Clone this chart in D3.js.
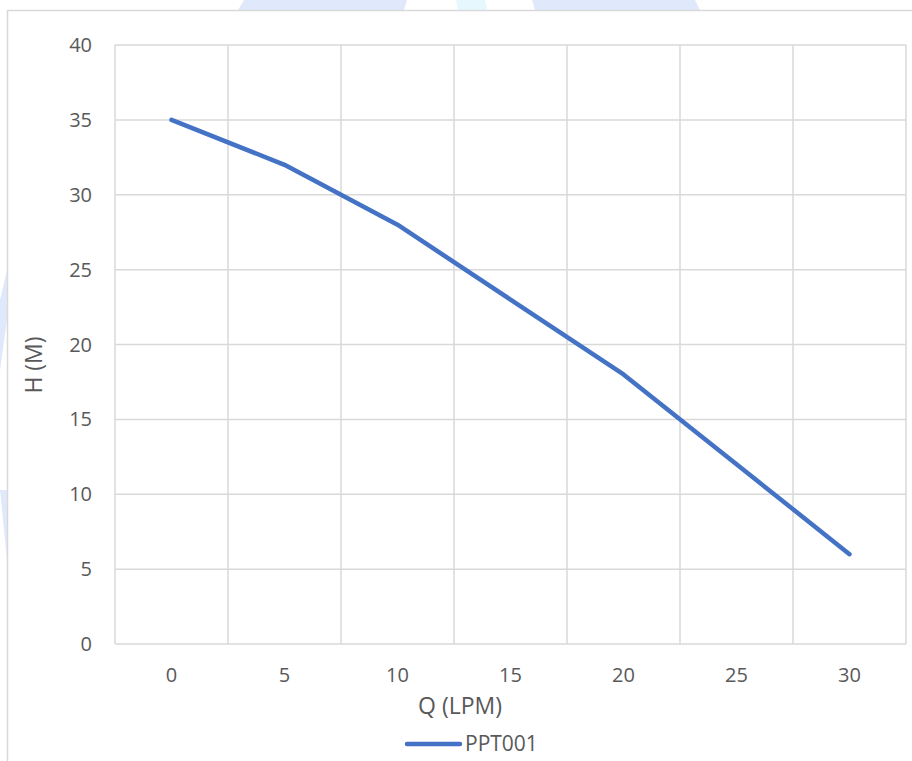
<!DOCTYPE html>
<html>
<head>
<meta charset="utf-8">
<script src="https://cdn.jsdelivr.net/npm/d3@7"></script>
<style>
  html, body { margin: 0; padding: 0; background: #fff; }
  svg { display: block; }
</style>
</head>
<body>
<svg id="chart" width="912" height="761"></svg>
<script>
const categories = ["0", "5", "10", "15", "20", "25", "30"];
const headValues = [35, 32, 28, 23, 18, 12, 6];
const yTicks = [0, 5, 10, 15, 20, 25, 30, 35, 40];
const seriesName = "PPT001";
const xTitle = "Q (LPM)";
const yTitle = "H (M)";

const svg = d3.select("#chart");
const font = "'Open Sans', 'Segoe UI', sans-serif";
const textColor = "#595959";
const gridColor = "#d9d9d9";
const lineColor = "#4472c4";

// faint watermark shapes behind the chart
const wm = svg.append("g");
wm.append("polygon").attr("points", "244,0 407,0 404,10 238,10").attr("fill", "#dfe9fb");
wm.append("polygon").attr("points", "456,0 485,0 487,10 458,10").attr("fill", "#e6f8fd");
wm.append("polygon").attr("points", "532,0 695,0 700,10 535,10").attr("fill", "#dfe9fb");
wm.append("polygon").attr("points", "0,300 7,270 7,320 0,370").attr("fill", "#dfe9fb");
wm.append("polygon").attr("points", "0,490 7,490 7,560 3,520").attr("fill", "#dfe9fb");

// chart area border
svg.append("rect").attr("x", 7.5).attr("y", 10.5).attr("width", 912).attr("height", 800)
  .attr("fill", "#fff").attr("stroke", gridColor).attr("stroke-width", 1.5);

const plot = { left: 115, right: 906, top: 45, bottom: 644 };

const x = d3.scaleBand().domain(categories).range([plot.left, plot.right]).padding(0);
const xc = c => x(c) + x.bandwidth() / 2;
const y = d3.scaleLinear().domain([0, 40]).range([plot.bottom, plot.top]);

// horizontal gridlines
svg.append("g").selectAll("line").data(yTicks).join("line")
  .attr("x1", plot.left).attr("x2", plot.right)
  .attr("y1", d => y(d)).attr("y2", d => y(d))
  .attr("stroke", gridColor).attr("stroke-width", 1.5);

// vertical gridlines at category boundaries
const xBounds = categories.map(c => x(c)).concat([plot.right]);
svg.append("g").selectAll("line").data(xBounds).join("line")
  .attr("x1", d => d).attr("x2", d => d)
  .attr("y1", plot.top).attr("y2", plot.bottom)
  .attr("stroke", gridColor).attr("stroke-width", 1.5);

// y tick labels
svg.append("g").selectAll("text").data(yTicks).join("text")
  .attr("x", 92).attr("y", d => y(d)).attr("dy", "0.35em")
  .attr("text-anchor", "end").attr("fill", textColor)
  .style("font-family", font).style("font-size", "20px")
  .text(d => d);

// x tick labels
svg.append("g").selectAll("text").data(categories).join("text")
  .attr("x", d => xc(d)).attr("y", 675).attr("dy", "0.35em")
  .attr("text-anchor", "middle").attr("fill", textColor)
  .style("font-family", font).style("font-size", "20px")
  .text(d => d);

// axis titles
svg.append("text").attr("x", 460).attr("y", 706).attr("dy", "0.35em")
  .attr("text-anchor", "middle").attr("fill", textColor)
  .style("font-family", font).style("font-size", "23px").text(xTitle);

svg.append("text").attr("transform", "translate(34,365) rotate(-90)").attr("dy", "0.35em")
  .attr("text-anchor", "middle").attr("fill", textColor)
  .style("font-family", font).style("font-size", "23px").text(yTitle);

// series line
const line = d3.line().x((d, i) => xc(categories[i])).y(d => y(d));
svg.append("path").datum(headValues)
  .attr("d", line).attr("fill", "none")
  .attr("stroke", lineColor).attr("stroke-width", 4.5)
  .attr("stroke-linecap", "round").attr("stroke-linejoin", "round");

// legend
svg.append("line").attr("x1", 407).attr("x2", 460).attr("y1", 744).attr("y2", 744)
  .attr("stroke", lineColor).attr("stroke-width", 4.5).attr("stroke-linecap", "round");
svg.append("text").attr("x", 465).attr("y", 744).attr("dy", "0.35em")
  .attr("fill", textColor).style("font-family", font).style("font-size", "21px")
  .text(seriesName);
</script>
</body>
</html>
